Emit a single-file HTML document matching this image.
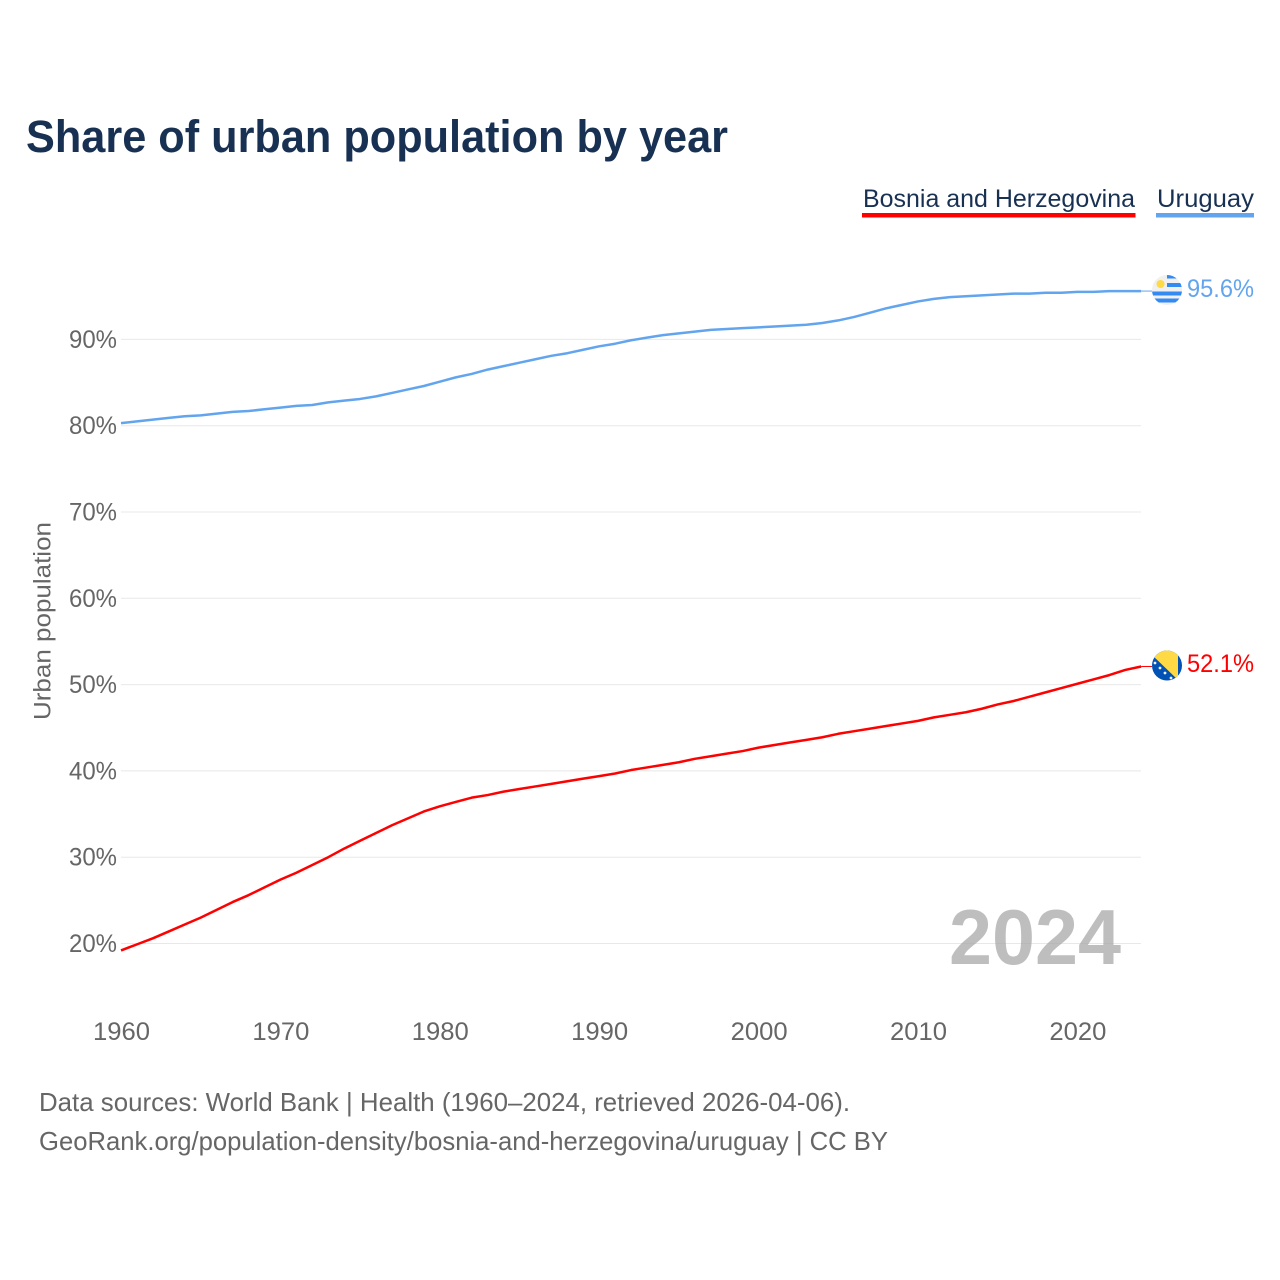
<!DOCTYPE html>
<html lang="en">
<head>
<meta charset="utf-8">
<title>Share of urban population by year</title>
<style>
html,body{margin:0;padding:0;background:#fff;width:1280px;height:1280px;overflow:hidden}
svg{display:block}
text{font-family:"Liberation Sans",Arial,sans-serif}
.t{fill:#666}
</style>
</head>
<body>
<svg id="chart" xmlns="http://www.w3.org/2000/svg" width="1280" height="1280" viewBox="0 0 1280 1280">
  <defs>
    <clipPath id="flag-clip-uy"><circle cx="1167" cy="290" r="15"/></clipPath>
    <clipPath id="flag-clip-ba"><circle cx="1167" cy="665.5" r="15"/></clipPath>
  </defs>
  <rect width="1280" height="1280" fill="#fff"/>
  <text x="26" y="152" font-size="45" font-weight="700" fill="#183153" textLength="702" lengthAdjust="spacingAndGlyphs">Share of urban population by year</text>

  <g>
    <g>
      <text x="863" y="207" font-size="25" fill="#183153" textLength="272" lengthAdjust="spacingAndGlyphs">Bosnia and Herzegovina</text>
      <rect x="862" y="213" width="273.5" height="4.5" fill="#ff0000"/>
    </g>
    <g>
      <text x="1157" y="207" font-size="25" fill="#183153" textLength="97" lengthAdjust="spacingAndGlyphs">Uruguay</text>
      <rect x="1156" y="213" width="98" height="4.5" fill="#62a5ee"/>
    </g>
  </g>

  <g id="grid"></g>
  <g id="yticks"></g>
  <g id="xticks"></g>

  <text class="t" transform="translate(50.5,621) rotate(-90)" text-anchor="middle" font-size="24.5" textLength="198" lengthAdjust="spacingAndGlyphs">Urban population</text>

  <text x="949" y="964" font-size="78" font-weight="700" fill="#a8a8a8" fill-opacity="0.75" textLength="172" lengthAdjust="spacingAndGlyphs">2024</text>

  <g id="series"></g>

  <g clip-path="url(#flag-clip-uy)">
    <rect x="1152" y="275" width="30" height="31" fill="#f0f0f0"/>
    <rect x="1167" y="275" width="15" height="3.5" fill="#338af3"/>
    <rect x="1167" y="283" width="15" height="4" fill="#338af3"/>
    <rect x="1152" y="291.5" width="30" height="4" fill="#338af3"/>
    <rect x="1152" y="298.5" width="30" height="4" fill="#338af3"/>
    <circle cx="1160.5" cy="284" r="4" fill="#ffda44"/>
  </g>
  <g clip-path="url(#flag-clip-ba)">
    <rect x="1152" y="650" width="30" height="31" fill="#0052b4"/>
    <polygon points="1152,655 1152,650 1178,650 1178,680" fill="#ffda44"/>
    <g fill="#f0f0f0">
      <circle cx="1155" cy="663" r="1.4"/><circle cx="1160" cy="668" r="1.4"/><circle cx="1165" cy="673" r="1.4"/><circle cx="1171" cy="678" r="1.4"/>
    </g>
  </g>

  <text x="1187" y="297" font-size="25" fill="#62a5ee" textLength="67" lengthAdjust="spacingAndGlyphs">95.6%</text>
  <text x="1187" y="672" font-size="25" fill="#ff0000" textLength="67" lengthAdjust="spacingAndGlyphs">52.1%</text>

  <text class="t" x="39" y="1111" font-size="26" textLength="811" lengthAdjust="spacingAndGlyphs">Data sources: World Bank | Health (1960–2024, retrieved 2026-04-06).</text>
  <text class="t" x="39" y="1150" font-size="26" textLength="849" lengthAdjust="spacingAndGlyphs">GeoRank.org/population-density/bosnia-and-herzegovina/uruguay | CC BY</text>
</svg>
<script>
const startYear = 1960;
const yTickValues = [20, 30, 40, 50, 60, 70, 80, 90];
const xTickValues = [1960, 1970, 1980, 1990, 2000, 2010, 2020];
const bosniaValues = [19.2,19.9,20.6,21.4,22.2,23.0,23.9,24.8,25.6,26.5,27.4,28.2,29.1,30.0,31.0,31.9,32.8,33.7,34.5,35.3,35.9,36.4,36.9,37.2,37.6,37.9,38.2,38.5,38.8,39.1,39.4,39.7,40.1,40.4,40.7,41.0,41.4,41.7,42.0,42.3,42.7,43.0,43.3,43.6,43.9,44.3,44.6,44.9,45.2,45.5,45.8,46.2,46.5,46.8,47.2,47.7,48.1,48.6,49.1,49.6,50.1,50.6,51.1,51.7,52.1];
const uruguayValues = [80.3,80.5,80.7,80.9,81.1,81.2,81.4,81.6,81.7,81.9,82.1,82.3,82.4,82.7,82.9,83.1,83.4,83.8,84.2,84.6,85.1,85.6,86.0,86.5,86.9,87.3,87.7,88.1,88.4,88.8,89.2,89.5,89.9,90.2,90.5,90.7,90.9,91.1,91.2,91.3,91.4,91.5,91.6,91.7,91.9,92.2,92.6,93.1,93.6,94.0,94.4,94.7,94.9,95.0,95.1,95.2,95.3,95.3,95.4,95.4,95.5,95.5,95.6,95.6,95.6];

const NS = 'http://www.w3.org/2000/svg';
function xScale(year) { return 121 + (year - 1960) * 15.94; }
function yScale(v) { return 943.5 - (v - 20) * 8.63; }

const grid = document.getElementById('grid');
const yticks = document.getElementById('yticks');
const xticks = document.getElementById('xticks');
const series = document.getElementById('series');

yTickValues.forEach(function (v) {
  const line = document.createElementNS(NS, 'line');
  
  
  line.setAttribute('x1', 121);
  line.setAttribute('x2', 1141);
  line.setAttribute('y1', yScale(v));
  line.setAttribute('y2', yScale(v));
  line.setAttribute('stroke', '#e8e8e8');
  line.setAttribute('stroke-width', '1');
  grid.appendChild(line);

  const label = document.createElementNS(NS, 'text');
  
  
  label.setAttribute('class', 't');
  label.setAttribute('x', 69);
  label.setAttribute('y', yScale(v) + 8.5);
  label.setAttribute('font-size', '25');
  label.setAttribute('textLength', '48');
  label.setAttribute('lengthAdjust', 'spacingAndGlyphs');
  label.textContent = v + '%';
  yticks.appendChild(label);
});

xTickValues.forEach(function (year) {
  const label = document.createElementNS(NS, 'text');
  
  
  label.setAttribute('class', 't');
  label.setAttribute('x', xScale(year) - 28);
  label.setAttribute('y', 1040);
  label.setAttribute('font-size', '25');
  label.setAttribute('textLength', '57');
  label.setAttribute('lengthAdjust', 'spacingAndGlyphs');
  label.textContent = year;
  xticks.appendChild(label);
});

function pathFor(values) {
  return values.map(function (v, i) {
    return (i ? 'L' : 'M') + xScale(startYear + i).toFixed(2) + ' ' + yScale(v).toFixed(2);
  }).join(' ');
}

function connectorFor(values, color) {
  const connector = document.createElementNS(NS, 'line');
  
  
  const last = values[values.length - 1];
  connector.setAttribute('x1', xScale(startYear + values.length - 1));
  connector.setAttribute('x2', 1152);
  connector.setAttribute('y1', yScale(last));
  connector.setAttribute('y2', yScale(last));
  connector.setAttribute('stroke', color);
  connector.setAttribute('stroke-width', '1');
  series.appendChild(connector);
}

const uruguayPath = document.createElementNS(NS, 'path');


uruguayPath.setAttribute('d', pathFor(uruguayValues));
uruguayPath.setAttribute('fill', 'none');
uruguayPath.setAttribute('stroke', '#62a5ee');
uruguayPath.setAttribute('stroke-width', '2.5');
uruguayPath.setAttribute('stroke-linejoin', 'round');
series.appendChild(uruguayPath);
connectorFor(uruguayValues, '#62a5ee');

const bosniaPath = document.createElementNS(NS, 'path');


bosniaPath.setAttribute('d', pathFor(bosniaValues));
bosniaPath.setAttribute('fill', 'none');
bosniaPath.setAttribute('stroke', '#ff0000');
bosniaPath.setAttribute('stroke-width', '2.5');
bosniaPath.setAttribute('stroke-linejoin', 'round');
series.appendChild(bosniaPath);
connectorFor(bosniaValues, '#ff0000');
</script>
</body>
</html>
